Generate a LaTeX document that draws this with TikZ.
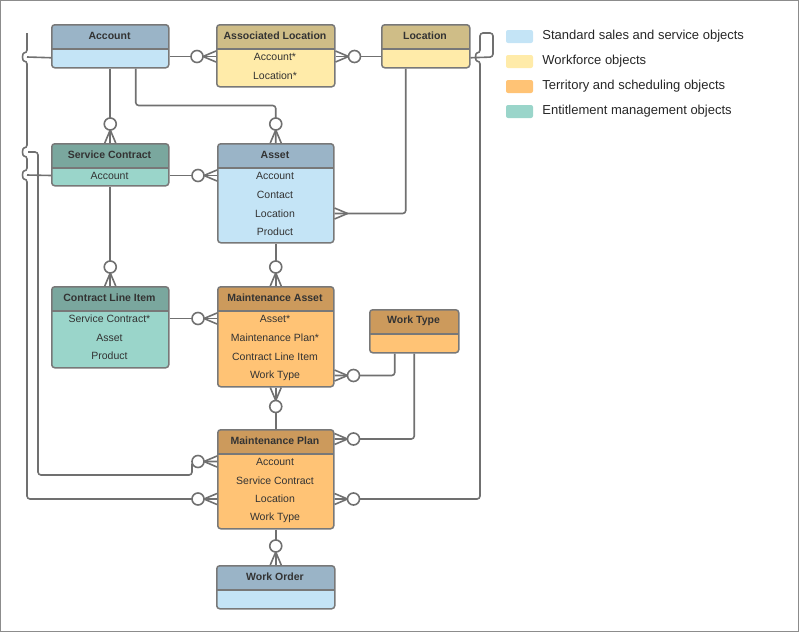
\documentclass[tikz,border=0pt]{standalone}
\usepackage{fontspec}
\setmainfont{Liberation Sans}
\usetikzlibrary{positioning,decorations.markings}
\definecolor{sfblue}{RGB}{196,228,246}
\definecolor{sfbluehd}{RGB}{154,180,199}
\definecolor{sfyellow}{RGB}{255,235,169}
\definecolor{sfyellowhd}{RGB}{207,189,135}
\definecolor{sforange}{RGB}{255,195,117}
\definecolor{sforangehd}{RGB}{204,154,92}
\definecolor{sfteal}{RGB}{154,213,202}
\definecolor{sftealhd}{RGB}{122,167,158}
\definecolor{sfline}{RGB}{112,112,112}
\definecolor{sfedge}{RGB}{120,120,120}
\definecolor{sftext}{RGB}{51,51,51}
\tikzset{
  ent/.style 2 args={draw=sfedge, line width=1.5pt, rounded corners=3pt, fill=#2,
    anchor=north west, inner sep=0pt,
    path picture={\fill[#1, sharp corners] ([yshift=-24pt]path picture bounding box.north west) rectangle (path picture bounding box.north east);
      \draw[sfedge, line width=1.5pt] ([yshift=-24pt]path picture bounding box.north west) -- ([yshift=-24pt]path picture bounding box.north east);}},
  ttl/.style={font=\fontsize{10.5}{12}\selectfont\bfseries, text=sftext},
  rowtext/.style={font=\fontsize{10.5}{12}\selectfont, text=sftext},
  link/.style={draw=sfline, line width=1.6pt, rounded corners=3pt},
  zmany/.style={link, postaction={decorate, decoration={markings, mark=at position 1 with {
      \draw[sfline, line width=1.6pt, sharp corners] (-13pt,0pt) -- (0pt,5.5pt) (-13pt,0pt) -- (0pt,-5.5pt);
      \draw[sfline, line width=1.6pt, fill=white] (-19pt,0pt) circle (6pt);}}}},
  many/.style={link, postaction={decorate, decoration={markings, mark=at position 1 with {
      \draw[sfline, line width=1.6pt, sharp corners] (-13pt,0pt) -- (0pt,5.5pt) (-13pt,0pt) -- (0pt,-5.5pt);}}}},
  swatch/.style={fill=#1, rounded corners=2pt, minimum width=27pt, minimum height=13pt, inner sep=0pt},
  legtext/.style={font=\fontsize{13}{15}\selectfont, text=black!85, inner sep=0pt, anchor=west},
}
\begin{document}
\begin{tikzpicture}[x=1pt, y=-1pt]
  \useasboundingbox (0,0) rectangle (800,632);
  \draw[black!45, line width=1pt] (0.5,0.5) rectangle (798.5,631);

  % Entities
  \node[ent={sfbluehd}{sfblue}, minimum width=117pt, minimum height=43pt] (acc) at (51,24) {};
  \node[ent={sfyellowhd}{sfyellow}, minimum width=118pt, minimum height=62pt] (aloc) at (216,24) {};
  \node[ent={sfyellowhd}{sfyellow}, minimum width=88pt, minimum height=43pt] (loc) at (381,24) {};
  \node[ent={sftealhd}{sfteal}, minimum width=117pt, minimum height=42pt] (sc) at (51,143) {};
  \node[ent={sfbluehd}{sfblue}, minimum width=116pt, minimum height=99pt] (asset) at (217,143) {};
  \node[ent={sftealhd}{sfteal}, minimum width=117pt, minimum height=81pt] (cli) at (51,286) {};
  \node[ent={sforangehd}{sforange}, minimum width=116pt, minimum height=100pt] (mass) at (217,286) {};
  \node[ent={sforangehd}{sforange}, minimum width=89pt, minimum height=43pt] (wtype) at (369,309) {};
  \node[ent={sforangehd}{sforange}, minimum width=116pt, minimum height=99pt] (mplan) at (217,429) {};
  \node[ent={sfbluehd}{sfblue}, minimum width=118pt, minimum height=43pt] (word) at (216,565) {};

  % Titles
  \node[ttl] at (109.5,35.5) {Account};
  \node[ttl] at (275,35.5) {Associated Location};
  \node[ttl] at (425,35.5) {Location};
  \node[ttl] at (109.5,154.5) {Service Contract};
  \node[ttl] at (275,154.5) {Asset};
  \node[ttl] at (109.5,297.5) {Contract Line Item};
  \node[ttl] at (275,297.5) {Maintenance Asset};
  \node[ttl] at (413.5,320.5) {Work Type};
  \node[ttl] at (275,440.5) {Maintenance Plan};
  \node[ttl] at (275,576.5) {Work Order};

  % Rows
  \node[rowtext] (aloc-acc) at (275,56.5) {Account*};
  \node[rowtext] (aloc-loc) at (275,75.5) {Location*};
  \node[rowtext] (sc-acc) at (109.5,175.5) {Account};
  \node[rowtext] (asset-acc) at (275,175.5) {Account};
  \node[rowtext] (asset-con) at (275,194.5) {Contact};
  \node[rowtext] (asset-loc) at (275,213.5) {Location};
  \node[rowtext] (asset-prod) at (275,232) {Product};
  \node[rowtext] (cli-sc) at (109.5,318.5) {Service Contract*};
  \node[rowtext] (cli-asset) at (109.5,337.5) {Asset};
  \node[rowtext] (cli-prod) at (109.5,356) {Product};
  \node[rowtext] (mass-asset) at (275,318.5) {Asset*};
  \node[rowtext] (mass-mp) at (275,337.5) {Maintenance Plan*};
  \node[rowtext] (mass-cli) at (275,356.5) {Contract Line Item};
  \node[rowtext] (mass-wt) at (275,375.5) {Work Type};
  \node[rowtext] (mplan-acc) at (275,461.5) {Account};
  \node[rowtext] (mplan-sc) at (275,480.5) {Service Contract};
  \node[rowtext] (mplan-loc) at (275,499) {Location};
  \node[rowtext] (mplan-wt) at (275,518) {Work Type};

  % Free ends of the side buses
  \coordinate (lbus-top) at (27,33);
  \coordinate (lbus-loop) at (28,152);
  \coordinate (sc-hop) at (27,175);

  % Relationships
  \draw[zmany] (aloc-acc -| acc.east) -- (aloc-acc -| aloc.west);
  \draw[zmany] (aloc-acc -| loc.west) -- (aloc-acc -| aloc.east);
  \draw[zmany] (acc.south) -- (sc.north);
  \draw[zmany] ([xshift=25.5pt]acc.south) -- ++(0,37) -| (asset.north);
  \draw[zmany] (sc-acc -| sc.east) -- (sc-acc -| asset.west);
  \draw[many] ([xshift=-20pt]loc.south) |- (asset-loc -| asset.east);
  \draw[zmany] (sc.south) -- (cli.north);
  \draw[zmany] (asset.south) -- (mass.north);
  \draw[zmany] (cli-sc -| cli.east) -- (cli-sc -| mass.west);
  \draw[zmany] ([xshift=-19.5pt]wtype.south) |- (mass-wt -| mass.east);
  \draw[zmany] (mplan.north) -- (mass.south);
  \draw[zmany] (wtype.south) |- ([yshift=-10pt]mplan.north east);
  \draw[zmany] (mplan.south) -- (word.north);

  % Side buses
  \draw[zmany] ([yshift=-11.5pt]loc.east) -- (493,57) -- (493,33) -- (480,33) -- (480,53)
    to[out=180, in=180, looseness=1.6] (480,61) -- (480,499) -- (mplan-loc -| mplan.east);
  \draw[link] ([yshift=-11.5pt]acc.west) -- (27,57);
  \draw[zmany] (lbus-top) -- (27,53) to[out=180, in=180, looseness=1.6] (27,61)
    -- (27,148) to[out=180, in=180, looseness=1.6] (27,156)
    -- (27,171) to[out=180, in=180, looseness=1.6] (27,179)
    -- (27,499) -- (mplan-loc -| mplan.west);
  \draw[link] (sc-acc -| sc.west) -- (sc-hop);
  \draw[zmany] (lbus-loop) -- (38,152) -- (38,475) -- (192,475) -- (192,461.5) -- (mplan-acc -| mplan.west);

  % Legend
  \node[swatch=sfblue] (lg1) at (519.5,36.5) {};
  \node[legtext, right=9pt of lg1] {Standard sales and service objects};
  \node[swatch=sfyellow] (lg2) at (519.5,61.5) {};
  \node[legtext, right=9pt of lg2] {Workforce objects};
  \node[swatch=sforange] (lg3) at (519.5,86.5) {};
  \node[legtext, right=9pt of lg3] {Territory and scheduling objects};
  \node[swatch=sfteal] (lg4) at (519.5,111.5) {};
  \node[legtext, right=9pt of lg4] {Entitlement management objects};
\end{tikzpicture}
\end{document}
